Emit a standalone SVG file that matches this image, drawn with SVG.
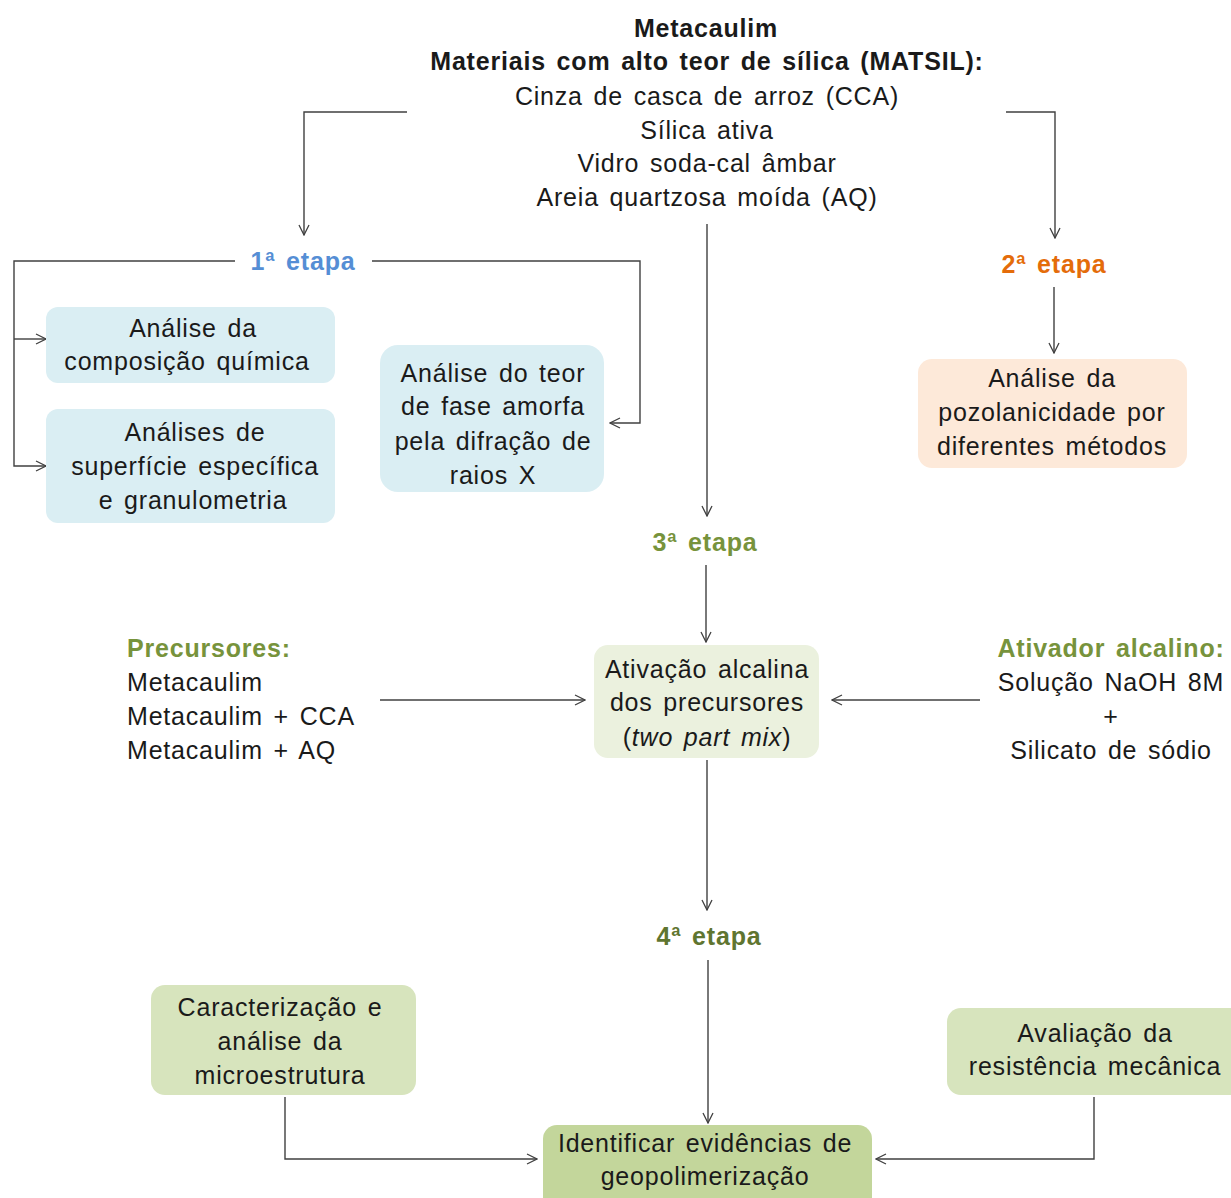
<svg xmlns="http://www.w3.org/2000/svg" width="1231" height="1198" viewBox="0 0 1231 1198">
<defs>
<marker id="arr" viewBox="0 0 12 12" refX="11" refY="6" markerWidth="12" markerHeight="12" markerUnits="userSpaceOnUse" orient="auto">
<path d="M1,1 L11,6 L1,11" fill="none" stroke="#404040" stroke-width="1.3"/>
</marker>
<style>
text{font-family:"Liberation Sans",Arial,sans-serif;font-size:25px;fill:#1a1a1a;letter-spacing:0.8px;word-spacing:3px}
.c{text-anchor:middle}
.b{font-weight:bold}
.conn path{fill:none;stroke:#404040;stroke-width:1.4}
.blue{fill:#DAEEF3}
.peach{fill:#FDE9D9}
.lg{fill:#EBF1DE}
.mg{fill:#D7E4BD}
.dg{fill:#C3D69B}
</style>
</defs>
<rect width="1231" height="1198" fill="#ffffff"/>

<g id="connectors" class="conn">
<path d="M407,112 H304 V235" marker-end="url(#arr)"/>
<path d="M1006,112 H1055 V238" marker-end="url(#arr)"/>
<path d="M707,224 V516" marker-end="url(#arr)"/>
<path d="M235,261 H14 V466 H46" marker-end="url(#arr)"/>
<path d="M14,339 H46" marker-end="url(#arr)"/>
<path d="M372,261 H640 V423 H610" marker-end="url(#arr)"/>
<path d="M1054,287 V353" marker-end="url(#arr)"/>
<path d="M706,565 V642" marker-end="url(#arr)"/>
<path d="M380,700 H585" marker-end="url(#arr)"/>
<path d="M980,700 H832" marker-end="url(#arr)"/>
<path d="M707,760 V910" marker-end="url(#arr)"/>
<path d="M708,960 V1123" marker-end="url(#arr)"/>
<path d="M285,1097 V1159 H537" marker-end="url(#arr)"/>
<path d="M1094,1097 V1159 H876" marker-end="url(#arr)"/>
</g>

<g id="source">
<text class="c b" x="706" y="37">Metacaulim</text>
<text class="c b" x="707" y="70">Materiais com alto teor de sílica (MATSIL):</text>
<text class="c" x="707" y="105">Cinza de casca de arroz (CCA)</text>
<text class="c" x="707" y="139">Sílica ativa</text>
<text class="c" x="707" y="172">Vidro soda-cal âmbar</text>
<text class="c" x="707" y="206">Areia quartzosa moída (AQ)</text>
</g>

<g id="etapa1"><text class="c b" x="303" y="270" style="fill:#558ED5">1ª etapa</text></g>
<g id="etapa2"><text class="c b" x="1054" y="273" style="fill:#E46C0A">2ª etapa</text></g>
<g id="etapa3"><text class="c b" x="705" y="551" style="fill:#77933C">3ª etapa</text></g>
<g id="etapa4"><text class="c b" x="709" y="945" style="fill:#5F7530">4ª etapa</text></g>

<g id="composicao">
<rect class="blue" x="46" y="307" width="289" height="76" rx="12"/>
<text class="c" x="193" y="337">Análise da</text>
<text class="c" x="187" y="370">composição química</text>
</g>

<g id="superficie">
<rect class="blue" x="46" y="409" width="289" height="114" rx="12"/>
<text class="c" x="195" y="441">Análises de</text>
<text class="c" x="195" y="475">superfície específica</text>
<text class="c" x="193" y="509">e granulometria</text>
</g>

<g id="amorfa">
<rect class="blue" x="380" y="345" width="224" height="147" rx="18"/>
<text class="c" x="493" y="382">Análise do teor</text>
<text class="c" x="493" y="415">de fase amorfa</text>
<text class="c" x="493" y="450">pela difração de</text>
<text class="c" x="493" y="484">raios X</text>
</g>

<g id="pozolanicidade">
<rect class="peach" x="918" y="359" width="269" height="109" rx="14"/>
<text class="c" x="1052" y="387">Análise da</text>
<text class="c" x="1052" y="421">pozolanicidade por</text>
<text class="c" x="1052" y="455">diferentes métodos</text>
</g>

<g id="precursores">
<text class="b" x="127" y="657" style="fill:#77933C">Precursores:</text>
<text x="127" y="691">Metacaulim</text>
<text x="127" y="725">Metacaulim + CCA</text>
<text x="127" y="759">Metacaulim + AQ</text>
</g>

<g id="ativacao">
<rect class="lg" x="594" y="645" width="225" height="113" rx="14"/>
<text class="c" x="707" y="678">Ativação alcalina</text>
<text class="c" x="707" y="711">dos precursores</text>
<text class="c" x="707" y="746">(<tspan font-style="italic">two part mix</tspan>)</text>
</g>

<g id="ativador">
<text class="c b" x="1111" y="657" style="fill:#77933C">Ativador alcalino:</text>
<text class="c" x="1111" y="691">Solução NaOH 8M</text>
<text class="c" x="1111" y="725">+</text>
<text class="c" x="1111" y="759">Silicato de sódio</text>
</g>

<g id="microestrutura">
<rect class="mg" x="151" y="985" width="265" height="110" rx="14"/>
<text class="c" x="280" y="1016">Caracterização e</text>
<text class="c" x="280" y="1050">análise da</text>
<text class="c" x="280" y="1084">microestrutura</text>
</g>

<g id="resistencia">
<rect class="mg" x="947" y="1008" width="300" height="87" rx="14"/>
<text class="c" x="1095" y="1042">Avaliação da</text>
<text class="c" x="1095" y="1075">resistência mecânica</text>
</g>

<g id="geopolimerizacao">
<rect class="dg" x="543" y="1125" width="329" height="90" rx="14"/>
<text class="c" x="705" y="1152">Identificar evidências de</text>
<text class="c" x="705" y="1185">geopolimerização</text>
</g>
</svg>
